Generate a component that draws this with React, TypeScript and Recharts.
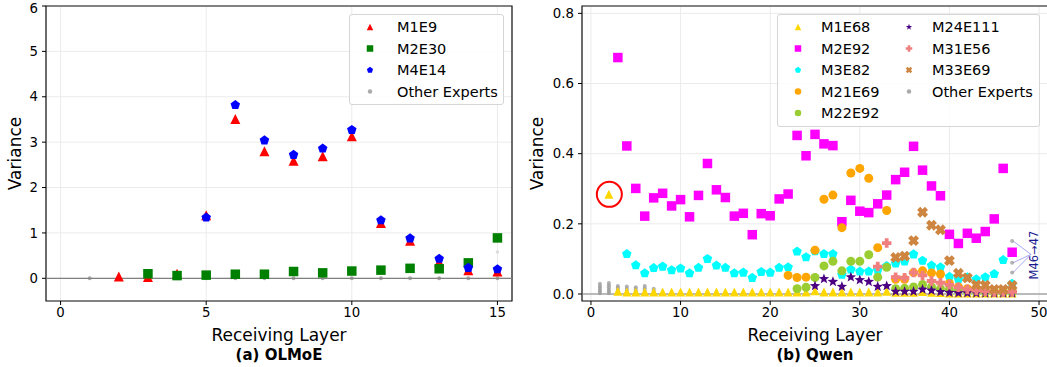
import React from "react";
import {
  ScatterChart,
  Scatter,
  XAxis,
  YAxis,
  CartesianGrid,
  ReferenceLine,
  ReferenceArea,
  ReferenceDot,
  Legend,
} from "recharts";

const FONT = "DejaVu Sans, Verdana, sans-serif";

// ---------- (a) OLMoE ----------
const olmoeM1E9Layers = [2, 3, 4, 5, 6, 7, 8, 9, 10, 11, 12, 13, 14, 15];
const olmoeM1E9 = [0.04, 0.03, 0.1, 1.39, 3.51, 2.8, 2.59, 2.69, 3.13, 1.22, 0.83, 0.36, 0.18, 0.15];
const olmoeM2E30Layers = [3, 4, 5, 6, 7, 8, 9, 10, 11, 12, 13, 14, 15];
const olmoeM2E30 = [0.1, 0.06, 0.07, 0.09, 0.09, 0.15, 0.12, 0.16, 0.18, 0.22, 0.21, 0.34, 0.89];
const olmoeM4E14Layers = [5, 6, 7, 8, 9, 10, 11, 12, 13, 14, 15];
const olmoeM4E14 = [1.34, 3.82, 3.04, 2.72, 2.86, 3.27, 1.28, 0.88, 0.43, 0.23, 0.2];
const olmoeOtherLayers = [1, 2, 3, 4, 5, 6, 7, 8, 9, 10, 11, 12, 13, 14, 15];
const olmoeOther = [0, 0, 0, 0, 0, 0, 0, 0, 0, 0, 0, 0, 0, 0, 0];
const olmoeOtherFaintLayers = [15];
const olmoeOtherFaint = [0.58];

const olmoeXTicks = [0, 5, 10, 15];
const olmoeYTicks = [0, 1, 2, 3, 4, 5, 6];

// ---------- (b) Qwen ----------
const qwenM1E68Layers = [2, 3, 4, 5, 6, 7, 8, 9, 10, 11, 12, 13, 14, 15, 16, 17, 18, 19, 20, 21, 22, 23, 24, 25, 26, 27, 28, 29, 30, 31, 32, 33, 34, 35, 36, 37, 38, 39, 40, 41, 42, 43, 44, 45, 46, 47];
const qwenM1E68 = [0.284, 0.008, 0.006, 0.006, 0.006, 0.006, 0.006, 0.006, 0.006, 0.006, 0.006, 0.006, 0.006, 0.006, 0.006, 0.006, 0.006, 0.006, 0.006, 0.006, 0.006, 0.006, 0.006, 0.009, 0.006, 0.006, 0.006, 0.006, 0.006, 0.006, 0.006, 0.008, 0.005, 0.005, 0.005, 0.007, 0.005, 0.004, 0.003, 0.003, 0.003, 0.003, 0.003, 0.003, 0.003, 0.003];
const qwenM2E92Layers = [3, 4, 5, 6, 7, 8, 9, 10, 11, 12, 13, 14, 15, 16, 17, 18, 19, 20, 21, 22, 23, 24, 25, 26, 27, 28, 29, 30, 31, 32, 33, 34, 35, 36, 37, 38, 39, 40, 41, 42, 43, 44, 45, 46, 47];
const qwenM2E92 = [0.674, 0.422, 0.301, 0.222, 0.274, 0.287, 0.251, 0.269, 0.22, 0.281, 0.372, 0.297, 0.275, 0.222, 0.23, 0.169, 0.229, 0.223, 0.271, 0.285, 0.452, 0.394, 0.455, 0.428, 0.423, 0.206, 0.267, 0.236, 0.232, 0.257, 0.282, 0.326, 0.347, 0.421, 0.353, 0.308, 0.28, 0.17, 0.144, 0.173, 0.159, 0.178, 0.214, 0.358, 0.119];
const qwenM3E82Layers = [4, 5, 6, 7, 8, 9, 10, 11, 12, 13, 14, 15, 16, 17, 18, 19, 20, 21, 22, 23, 24, 25, 26, 27, 28, 29, 30, 31, 32, 33, 34, 35, 36, 37, 38, 39, 40, 41, 42, 43, 44, 45, 46, 47];
const qwenM3E82 = [0.114, 0.082, 0.059, 0.074, 0.078, 0.068, 0.073, 0.059, 0.075, 0.1, 0.081, 0.075, 0.059, 0.061, 0.046, 0.063, 0.061, 0.075, 0.076, 0.121, 0.105, 0.122, 0.114, 0.114, 0.055, 0.07, 0.064, 0.064, 0.068, 0.08, 0.087, 0.093, 0.113, 0.095, 0.081, 0.076, 0.049, 0.042, 0.048, 0.042, 0.048, 0.057, 0.097, 0.029];
const qwenM21E69Layers = [22, 23, 24, 25, 26, 27, 28, 29, 30, 31, 32, 33, 34, 35, 36, 37, 38, 39, 40, 41, 42, 43, 44, 45, 46, 47];
const qwenM21E69 = [0.053, 0.047, 0.048, 0.125, 0.27, 0.282, 0.189, 0.345, 0.358, 0.33, 0.132, 0.238, 0.042, 0.042, 0.061, 0.066, 0.06, 0.057, 0.03, 0.02, 0.015, 0.012, 0.01, 0.008, 0.008, 0.008];
const qwenM22E92Layers = [23, 24, 25, 26, 27, 28, 29, 30, 31, 32, 33, 34, 35, 36, 37, 38, 39, 40, 41, 42, 43, 44, 45, 46, 47];
const qwenM22E92 = [0.015, 0.019, 0.047, 0.08, 0.093, 0.066, 0.093, 0.093, 0.112, 0.048, 0.076, 0.015, 0.016, 0.02, 0.027, 0.02, 0.015, 0.012, 0.01, 0.008, 0.007, 0.006, 0.006, 0.005, 0.005];
const qwenM24E111Layers = [25, 26, 27, 28, 29, 30, 31, 32, 33, 34, 35, 36, 37, 38, 39, 40, 41, 42, 43, 44, 45, 46, 47];
const qwenM24E111 = [0.023, 0.043, 0.035, 0.021, 0.048, 0.04, 0.035, 0.021, 0.023, 0.007, 0.007, 0.007, 0.013, 0.01, 0.006, 0.004, 0.003, 0.003, 0.002, 0.002, 0.002, 0.002, 0.002];
const qwenM31E56Layers = [32, 33, 34, 35, 36, 37, 38, 39, 40, 41, 42, 43, 44, 45, 46, 47];
const qwenM31E56 = [0.078, 0.145, 0.048, 0.046, 0.061, 0.053, 0.037, 0.032, 0.026, 0.019, 0.013, 0.01, 0.008, 0.006, 0.006, 0.006];
const qwenM33E69Layers = [34, 35, 36, 37, 38, 39, 40, 41, 42, 43, 44, 45, 46, 47];
const qwenM33E69 = [0.104, 0.108, 0.152, 0.233, 0.196, 0.183, 0.095, 0.059, 0.046, 0.026, 0.025, 0.013, 0.013, 0.024];
const qwenOtherLayers = [1, 1, 1, 1, 1, 1, 2, 2, 2, 2, 2, 2, 3, 3, 3, 3, 3, 4, 4, 4, 4, 5, 5, 5, 5, 6, 6, 6, 6, 7, 7, 7, 47, 47, 47];
const qwenOther = [0.002, 0.007, 0.012, 0.018, 0.023, 0.029, 0.002, 0.008, 0.013, 0.019, 0.025, 0.031, 0.003, 0.008, 0.013, 0.018, 0.023, 0.004, 0.009, 0.015, 0.021, 0.004, 0.009, 0.014, 0.019, 0.004, 0.01, 0.016, 0.023, 0.004, 0.01, 0.015, 0.151, 0.089, 0.061];

const qwenXTicks = [0, 10, 20, 30, 40, 50];
const qwenYTicks = [0, 0.2, 0.4, 0.6, 0.8];

const pts = (xs: number[], ys: number[]) => xs.map((x, i) => ({ x, y: ys[i] }));

type Kind = "triangle" | "square" | "pentagon" | "circle" | "star" | "plus" | "x";

function Glyph({ kind, x, y, s, fill, opacity = 1 }: { kind: Kind; x: number; y: number; s: number; fill: string; opacity?: number }) {
  const h = s / 2;
  if (kind === "triangle")
    return <polygon points={`${x},${y - h} ${x - h},${y + h} ${x + h},${y + h}`} fill={fill} />;
  if (kind === "square") return <rect x={x - h} y={y - h} width={s} height={s} fill={fill} />;
  if (kind === "circle") return <circle cx={x} cy={y} r={h} fill={fill} fillOpacity={opacity} />;
  if (kind === "pentagon" || kind === "star") {
    const n = kind === "star" ? 10 : 5;
    const p = [];
    for (let k = 0; k < n; k++) {
      const a = -Math.PI / 2 + (k * 2 * Math.PI) / n;
      const r = kind === "star" && k % 2 === 1 ? h * 0.42 : h;
      p.push(`${x + r * Math.cos(a)},${y + r * Math.sin(a)}`);
    }
    return <polygon points={p.join(" ")} fill={fill} />;
  }
  // filled plus ("P") and filled x ("X")
  const t = s / 5;
  const d = `M${x - t},${y - h}H${x + t}V${y - t}H${x + h}V${y + t}H${x + t}V${y + h}H${x - t}V${y + t}H${x - h}V${y - t}H${x - t}Z`;
  if (kind === "x") return <path d={d} fill={fill} transform={`rotate(45 ${x} ${y})`} />;
  return <path d={d} fill={fill} />;
}

type Series = { name: string; kind: Kind; color: string; size: number; data: { x: number; y: number }[] };

const olmoeSeries: Series[] = [
  { name: "M1E9", kind: "triangle", color: "#ff0000", size: 10, data: pts(olmoeM1E9Layers, olmoeM1E9) },
  { name: "M2E30", kind: "square", color: "#008000", size: 9.5, data: pts(olmoeM2E30Layers, olmoeM2E30) },
  { name: "M4E14", kind: "pentagon", color: "#0000ff", size: 10, data: pts(olmoeM4E14Layers, olmoeM4E14) },
];

const qwenSeries: Series[] = [
  { name: "M1E68", kind: "triangle", color: "#ffd700", size: 9, data: pts(qwenM1E68Layers, qwenM1E68) },
  { name: "M2E92", kind: "square", color: "#ff00ff", size: 9.5, data: pts(qwenM2E92Layers, qwenM2E92) },
  { name: "M3E82", kind: "pentagon", color: "#00ffff", size: 10, data: pts(qwenM3E82Layers, qwenM3E82) },
  { name: "M21E69", kind: "circle", color: "#ffa500", size: 9, data: pts(qwenM21E69Layers, qwenM21E69) },
  { name: "M22E92", kind: "circle", color: "#9acd32", size: 9, data: pts(qwenM22E92Layers, qwenM22E92) },
  { name: "M24E111", kind: "star", color: "#4b0082", size: 11, data: pts(qwenM24E111Layers, qwenM24E111) },
  { name: "M31E56", kind: "plus", color: "#f08080", size: 9.5, data: pts(qwenM31E56Layers, qwenM31E56) },
  { name: "M33E69", kind: "x", color: "#cd853f", size: 11, data: pts(qwenM33E69Layers, qwenM33E69) },
];

const OTHER = { name: "Other Experts", kind: "circle" as Kind, color: "#aaaaaa" };

function LegendBox({ items, width, height, cols }: { items: { name: string; kind: Kind; color: string }[]; width: number; height: number; cols: { mark: number; text: number; rows: number }[] }) {
  let idx = 0;
  const cells: React.ReactNode[] = [];
  cols.forEach((c, ci) => {
    for (let r = 0; r < c.rows && idx < items.length; r++, idx++) {
      const it = items[idx];
      const cy = 12 + r * 21.5;
      cells.push(
        <g key={`${ci}-${r}`}>
          <Glyph kind={it.kind} x={c.mark} y={cy} s={it.name === "Other Experts" ? 4.5 : 6.5} fill={it.color} />
          <text x={c.text} y={cy} dominantBaseline="central" fontSize={14.5} fontFamily={FONT} fill="#000">
            {it.name}
          </text>
        </g>
      );
    }
  });
  return (
    <div style={{ width, height, boxSizing: "border-box", background: "rgba(255,255,255,0.85)", border: "1px solid #d6d6d6", borderRadius: 3 }}>
      <svg width={width - 2} height={height - 2} style={{ display: "block" }}>
        {cells}
      </svg>
    </div>
  );
}

function Panel(props: {
  left: number;
  width: number;
  yAxisWidth: number;
  plotRight: number;
  xDomain: [number, number];
  yDomain: [number, number];
  xTicks: number[];
  yTicks: number[];
  yFmt: (v: number) => string;
  caption: string;
  series: Series[];
  other: { x: number; y: number }[];
  otherFaint?: { x: number; y: number }[];
  otherFill: string;
  legend: React.ReactNode;
  legendPos: { left: number; top: number; width: number; height: number };
  extra?: React.ReactNode[];
}) {
  const H = 367;
  const plotL = props.yAxisWidth;
  const plotR = props.plotRight;
  const cx = (plotL + plotR) / 2;
  return (
    <div style={{ position: "absolute", left: props.left, top: 0 }}>
      <ScatterChart width={props.width} height={H} margin={{ top: 6, right: props.width - plotR, bottom: 0, left: 0 }}>
        <CartesianGrid stroke="#ebebeb" strokeWidth={1} />
        <XAxis
          type="number"
          dataKey="x"
          domain={props.xDomain}
          allowDataOverflow
          ticks={props.xTicks}
          height={66}
          axisLine={false}
          tickSize={4}
          tickMargin={3}
          tickLine={{ stroke: "#000" }}
          tick={{ fill: "#000", fontSize: 13.3, fontFamily: FONT }}
          label={{
            content: () => (
              <g>
                <text x={cx} y={335} textAnchor="middle" dominantBaseline="central" fontSize={17} fontFamily={FONT} fill="#000">
                  Receiving Layer
                </text>
                <text x={cx} y={355} textAnchor="middle" dominantBaseline="central" fontSize={15} fontWeight="bold" fontFamily={FONT} fill="#000">
                  {props.caption}
                </text>
              </g>
            ),
          }}
        />
        <YAxis
          type="number"
          dataKey="y"
          domain={props.yDomain}
          allowDataOverflow
          ticks={props.yTicks}
          width={props.yAxisWidth}
          axisLine={false}
          tickSize={4}
          tickMargin={4}
          tickLine={{ stroke: "#000" }}
          tickFormatter={props.yFmt}
          tick={{ fill: "#000", fontSize: 13.3, fontFamily: FONT }}
          label={{
            content: () => (
              <text
                x={15}
                y={153.5}
                textAnchor="middle"
                dominantBaseline="central"
                fontSize={17}
                fontFamily={FONT}
                fill="#000"
                transform="rotate(-90 15 153.5)"
              >
                Variance
              </text>
            ),
          }}
        />
        <ReferenceLine y={0} stroke="#808080" strokeWidth={1.2} />
        <Scatter
          name="Other Experts"
          data={props.other}
          isAnimationActive={false}
          shape={(p: any) => <Glyph kind="circle" x={p.cx} y={p.cy} s={4} fill={props.otherFill} opacity={0.75} />}
        />
        {props.otherFaint ? (
          <Scatter
            name="Other Experts faint"
            data={props.otherFaint}
            isAnimationActive={false}
            legendType="none"
            shape={(p: any) => <Glyph kind="circle" x={p.cx} y={p.cy} s={3.5} fill="#dddddd" />}
          />
        ) : null}
        {props.series.map((s) => (
          <Scatter
            key={s.name}
            name={s.name}
            data={s.data}
            isAnimationActive={false}
            shape={(p: any) => <Glyph kind={s.kind} x={p.cx} y={p.cy} s={s.size} fill={s.color} />}
          />
        ))}
        {props.extra}
        <ReferenceArea
          x1={props.xDomain[0]}
          x2={props.xDomain[1]}
          y1={props.yDomain[0]}
          y2={props.yDomain[1]}
          fill="none"
          stroke="#111"
          strokeWidth={1.2}
          ifOverflow="visible"
        />
        <Legend
          layout="vertical"
          align="center"
          verticalAlign="middle"
          wrapperStyle={{ ...props.legendPos, margin: 0 }}
          content={() => props.legend}
        />
      </ScatterChart>
    </div>
  );
}

export default function App() {
  const olmoeLegend = [...olmoeSeries, OTHER];
  const qwenLegend = [...qwenSeries, OTHER];
  return (
    <div style={{ position: "absolute", left: 0, top: 0, width: 1047, height: 367, overflow: "hidden", background: "#fff" }}>
      <Panel
        left={0}
        width={520}
        yAxisWidth={46}
        plotRight={512}
        xDomain={[-0.5, 15.5]}
        yDomain={[-0.5, 6]}
        xTicks={olmoeXTicks}
        yTicks={olmoeYTicks}
        yFmt={(v) => String(v)}
        caption="(a) OLMoE"
        series={olmoeSeries}
        other={pts(olmoeOtherLayers, olmoeOther)}
        otherFaint={pts(olmoeOtherFaintLayers, olmoeOtherFaint)}
        otherFill="#888888"
        legendPos={{ left: 349, top: 14, width: 155, height: 91 }}
        legend={
          <LegendBox items={olmoeLegend} width={155} height={91} cols={[{ mark: 20, text: 47, rows: 4 }]} />
        }
      />
      <Panel
        left={522}
        width={526}
        yAxisWidth={60}
        plotRight={526}
        xDomain={[-1, 51]}
        yDomain={[-0.02, 0.821]}
        xTicks={qwenXTicks}
        yTicks={qwenYTicks}
        yFmt={(v) => v.toFixed(1)}
        caption="(b) Qwen"
        series={qwenSeries}
        other={pts(qwenOtherLayers, qwenOther)}
        otherFill="#9a9a9a"
        legendPos={{ left: 255, top: 14, width: 263, height: 113 }}
        legend={
          <LegendBox
            items={qwenLegend}
            width={263}
            height={113}
            cols={[
              { mark: 20, text: 43, rows: 5 },
              { mark: 131, text: 154, rows: 4 },
            ]}
          />
        }
        extra={[
          <ReferenceDot key="circ" x={2.05} y={0.284} r={12.5} fill="none" stroke="#ff0000" strokeWidth={2} ifOverflow="visible" />,
          <ReferenceLine key="a1" segment={[{ x: 49.1, y: 0.113 }, { x: 47.1, y: 0.151 }]} stroke="#a9a9f2" strokeWidth={1} ifOverflow="visible" />,
          <ReferenceLine key="a2" segment={[{ x: 49.1, y: 0.113 }, { x: 47.1, y: 0.089 }]} stroke="#a9a9f2" strokeWidth={1} ifOverflow="visible" />,
          <ReferenceLine key="a3" segment={[{ x: 49.1, y: 0.113 }, { x: 47.1, y: 0.061 }]} stroke="#a9a9f2" strokeWidth={1} ifOverflow="visible" />,
          <ReferenceDot
            key="txt"
            x={49.45}
            y={0.111}
            r={1}
            fill="none"
            stroke="none"
            ifOverflow="visible"
            label={{
              content: (p: any) => {
                const vb = p.viewBox || { x: 0, y: 0, width: 0, height: 0 };
                const tx = vb.x + (vb.width || 0) / 2;
                const ty = vb.y + (vb.height || 0) / 2;
                return (
                  <text x={tx} y={ty} textAnchor="middle" dominantBaseline="central" fontSize={11.5} fontFamily={FONT} fill="#1a1a8f" transform={`rotate(-90 ${tx} ${ty})`}>
                    M46→47
                  </text>
                );
              },
            }}
          />,
        ]}
      />
    </div>
  );
}
